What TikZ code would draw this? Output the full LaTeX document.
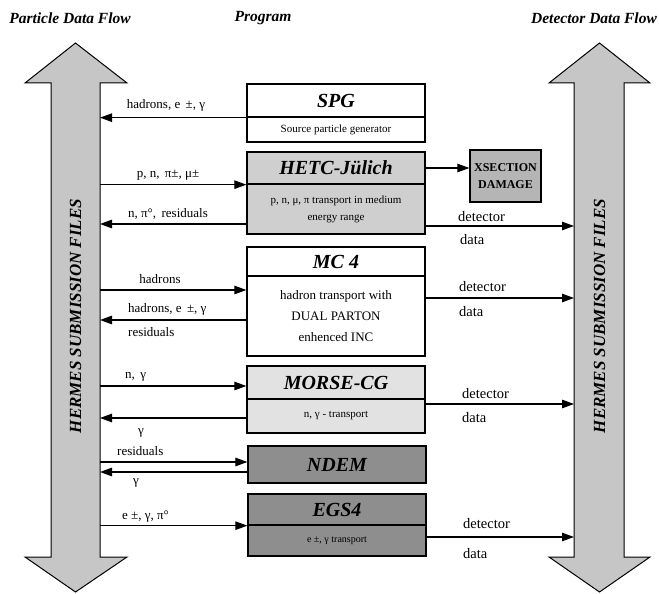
\documentclass[tikz,border=0pt]{standalone}
\usepackage{fontspec}
\setmainfont{Liberation Serif}
\usetikzlibrary{arrows.meta}
\definecolor{shaftgray}{HTML}{C6C6C6}
\definecolor{hetcgray}{HTML}{CFCFCF}
\definecolor{xsgray}{HTML}{B5B5B5}
\definecolor{morsegray}{HTML}{E2E2E2}
\definecolor{darkbox}{HTML}{8E8E8E}
\tikzset{
  bigarrow/.style={draw=black, line width=1pt, fill=shaftgray, line join=miter},
  shafttext/.style={font=\fontsize{17}{17}\selectfont\bfseries\itshape, rotate=90},
  heading/.style={font=\fontsize{15.5}{15.5}\selectfont\bfseries\itshape},
  ttl/.style={draw=black, line width=1.3pt, minimum width=178pt, inner sep=0pt,
              font=\fontsize{20}{20}\selectfont\bfseries\itshape},
  body/.style={draw=black, line width=1.3pt, minimum width=178pt, inner sep=0pt, align=center},
  arr/.style={line width=1.1pt, -{Triangle[length=12pt,width=8.5pt]}},
  lbl/.style={font=\fontsize{13}{13}\selectfont, inner sep=0pt},
  dlbl/.style={font=\fontsize{14.5}{14.5}\selectfont, inner sep=0pt, anchor=west}
}
\begin{document}
\begin{tikzpicture}[x=1pt,y=-1pt]
\useasboundingbox (0,0) rectangle (659,594);
% headings
\node[heading] (h1) at (70,18) {Particle Data Flow};
\node[heading] (h2) at (263,18) {Program};
\node[heading] (h3) at (594,18) {Detector Data Flow};
% big double arrows
\draw[bigarrow] (51,83) -- (25,83) -- (75.5,43) -- (127,83) -- (100,83) -- (100,557)
  -- (127,557) -- (75.5,592) -- (25,557) -- (51,557) -- cycle;
\draw[bigarrow] (574,83) -- (549,83) -- (599.5,43) -- (650,83) -- (624,83) -- (624,557)
  -- (650,557) -- (599.5,592) -- (549,557) -- (574,557) -- cycle;
\node[shafttext] (lft) at (75.5,316) {HERMES SUBMISSION FILES};
\node[shafttext] (rgt) at (599.5,316) {HERMES SUBMISSION FILES};
\coordinate (L) at (100,0);
\coordinate (R) at (574,0);
% SPG
\node[ttl, fill=white, minimum height=33pt] (spgT) at (336,100.5) {SPG};
\node[body, fill=white, minimum height=25pt, font=\fontsize{11}{11}\selectfont] (spgB) at (336,129.5) {Source particle generator};
% HETC
\node[ttl, fill=hetcgray, minimum height=32pt] (hetcT) at (336,168) {HETC-Jülich};
\node[body, fill=hetcgray, minimum height=50pt, font=\fontsize{11}{17}\selectfont] (hetcB) at (336,209) {p, n, μ, π transport in medium\\energy range};
% MC4
\node[ttl, fill=white, minimum height=29pt] (mcT) at (336,261.5) {MC 4};
\node[body, fill=white, minimum height=80pt, font=\fontsize{13}{21}\selectfont] (mcB) at (336,316) {hadron transport with\\DUAL PARTON\\enhenced INC};
% MORSE
\node[ttl, fill=morsegray, minimum height=33pt] (moT) at (336,382.5) {MORSE-CG};
\node[body, fill=morsegray, minimum height=34pt, font=\fontsize{11}{12}\selectfont] (moB) at (336,416) {n, γ - transport};
% NDEM
\node[ttl, fill=darkbox, minimum height=37pt] (nd) at (337,464.5) {NDEM};
% EGS4
\node[ttl, fill=darkbox, minimum height=31pt] (egT) at (337,509.5) {EGS4};
\node[body, fill=darkbox, minimum height=31pt, font=\fontsize{10}{10}\selectfont] (egB) at (337,540.5) {e ±, γ transport};
% XSECTION
\node[draw=black, line width=1.3pt, fill=xsgray, minimum width=71pt, minimum height=52pt, inner sep=0pt,
      align=center, font=\fontsize{12}{17}\selectfont\bfseries] (xs) at (505.5,176) {XSECTION\\DAMAGE};
% left-side connectors
\draw[arr] (spgT.south west) -- (spgT.south west -| L);
\node[lbl] (l1) at (166,105) {hadrons, e \,±, γ};
\draw[arr] (hetcT.south west -| L) -- (hetcT.south west);
\node[lbl] (l2) at (168,175) {p, n, \,π±, μ±};
\draw[arr] (hetcB.west |- 0,224) -- (L |- 0,224);
\node[lbl] (l3) at (168,214) {n, π°, \,residuals};
\draw[arr] (L |- 0,290) -- (mcB.west |- 0,290);
\node[lbl] (l4) at (160,279) {hadrons};
\draw[arr] (mcB.west |- 0,320) -- (L |- 0,320);
\node[lbl, anchor=west] (l5) at (128,309) {hadrons, e \,±, γ};
\node[lbl, anchor=west] (l6) at (128,332) {residuals};
\draw[arr] (L |- 0,386) -- (moT.west |- 0,386);
\node[lbl, anchor=west] (l7) at (125,377) {n, \,γ};
\draw[arr] (moB.west |- 0,418) -- (L |- 0,418);
\node[lbl] (l8) at (141,433) {γ};
\draw[arr] (L |- 0,462) -- (nd.west |- 0,462);
\node[lbl, anchor=west] (l9) at (117,451) {residuals};
\draw[arr] (nd.west |- 0,472) -- (L |- 0,472);
\node[lbl] (l10) at (136,483) {γ};
\draw[arr] (egT.south west -| L) -- (egT.south west);
\node[lbl, anchor=west] (l11) at (122,517) {e ±, γ, π°};
% right-side connectors
\draw[arr] (hetcT.east) -- (xs.west |- hetcT.east);
\draw[arr] (hetcB.east |- 0,226) -- (R |- 0,226);
\node[dlbl] (d1) at (458,217) {detector};
\node[dlbl] (e1) at (460,240) {data};
\draw[arr] (mcB.east |- 0,298) -- (R |- 0,298);
\node[dlbl] (d2) at (459,287) {detector};
\node[dlbl] (e2) at (459,312) {data};
\draw[arr] (moB.east |- 0,404) -- (R |- 0,404);
\node[dlbl] (d3) at (462,394) {detector};
\node[dlbl] (e3) at (462,418) {data};
\draw[arr] (egB.east |- 0,537) -- (R |- 0,537);
\node[dlbl] (d4) at (463,524) {detector};
\node[dlbl] (e4) at (463,554) {data};
\end{tikzpicture}
\end{document}
